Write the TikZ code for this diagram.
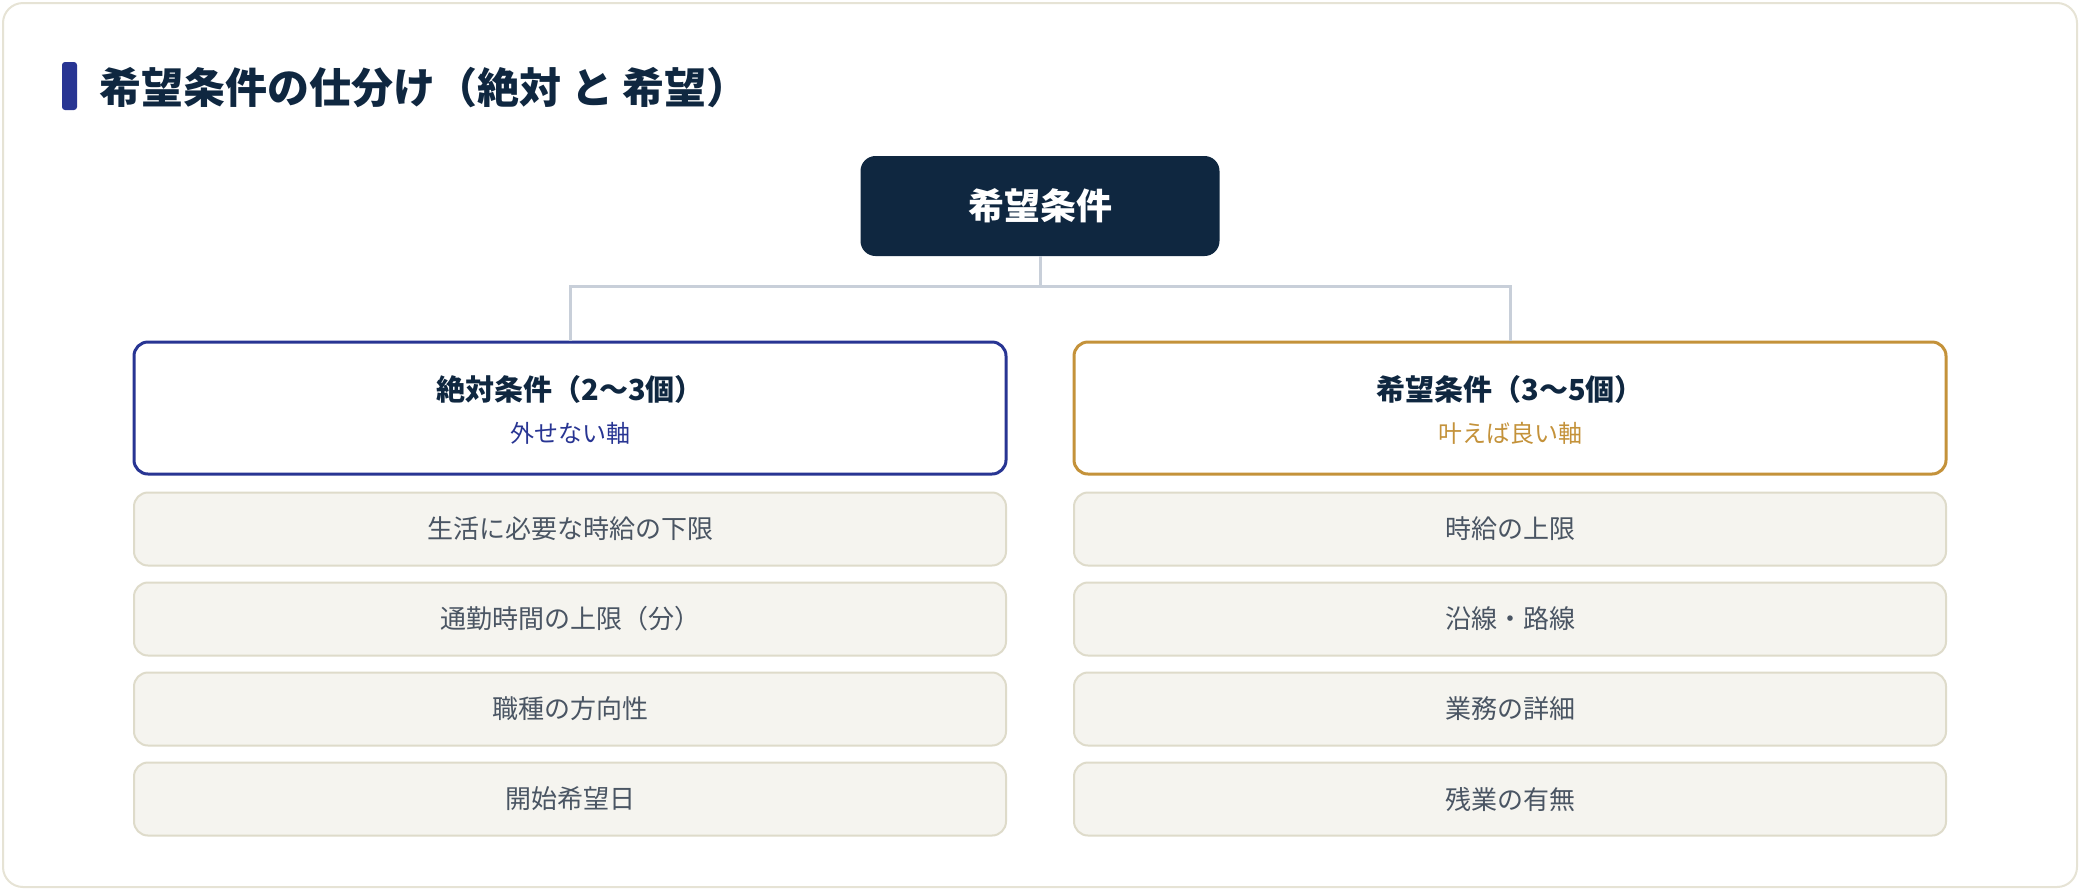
\documentclass[tikz,border=0pt]{standalone}
\usepackage{fontspec}
\setmainfont{Noto Sans CJK JP}
\definecolor{navy}{HTML}{0F2740}
\definecolor{accent}{HTML}{283593}
\definecolor{gold}{HTML}{C4923A}
\definecolor{itemfill}{HTML}{F5F4EF}
\definecolor{itemline}{HTML}{DEDBCA}
\definecolor{itemtext}{HTML}{4A5563}
\definecolor{connline}{HTML}{C8CFD9}
\definecolor{cardline}{HTML}{E6E3D5}
\begin{document}
\begin{tikzpicture}[x=0.5pt,y=-0.5pt,
  card/.style={draw=cardline,line width=1pt,fill=white,rounded corners=10pt},
  accentbar/.style={fill=accent,rounded corners=1.5pt},
  titletext/.style={anchor=west,inner sep=0pt,text=navy,font=\fontsize{21pt}{25pt}\selectfont\bfseries},
  rootbox/.style={fill=navy,rounded corners=7.5pt,minimum width=179.5pt,minimum height=50pt,inner sep=0pt,text=white,font=\fontsize{18pt}{22pt}\selectfont\bfseries},
  headbox/.style={draw=#1,line width=1.5pt,fill=white,rounded corners=7pt,minimum width=436pt,minimum height=66pt,inner sep=0pt},
  headtitle/.style={inner sep=0pt,text=navy,font=\fontsize{14.5pt}{17pt}\selectfont\bfseries},
  headsub/.style={inner sep=0pt,text=#1,font=\fontsize{12pt}{14pt}\selectfont},
  itembox/.style={draw=itemline,line width=1pt,fill=itemfill,rounded corners=7pt,minimum width=436pt,minimum height=36.5pt,inner sep=0pt,text=itemtext,font=\fontsize{13pt}{15pt}\selectfont},
  conn/.style={draw=connline,line width=1.5pt}
]
\useasboundingbox (0,0) rectangle (2080,890);
\draw[card] (3,3) rectangle (2077,887);
\fill[accentbar] (62,62) rectangle (77,110);
\node[titletext] (title) at (99,88) {希望条件の仕分け（絶対 と 希望）};

\node[rootbox] (root) at (1040,206) {希望条件};

\node[headbox=accent] (hl) at (570,408) {};
\node[headbox=gold] (hr) at (1510,408) {};
\node[headtitle] (hlt) at (570,389) {絶対条件（2〜3個）};
\node[headsub=accent] (hls) at (570,433) {外せない軸};
\node[headtitle] (hrt) at (1510,389) {希望条件（3〜5個）};
\node[headsub=gold] (hrs) at (1510,433) {叶えば良い軸};

\coordinate (split) at (1040,286);
\draw[conn] (root.south) -- (split);
\draw[conn] (split) -| (hl.north);
\draw[conn] (split) -| (hr.north);

\node[itembox] (l1) at (570,529) {生活に必要な時給の下限};
\node[itembox] (l2) at (570,619) {通勤時間の上限（分）};
\node[itembox] (l3) at (570,709) {職種の方向性};
\node[itembox] (l4) at (570,799) {開始希望日};
\node[itembox] (r1) at (1510,529) {時給の上限};
\node[itembox] (r2) at (1510,619) {沿線・路線};
\node[itembox] (r3) at (1510,709) {業務の詳細};
\node[itembox] (r4) at (1510,799) {残業の有無};
\end{tikzpicture}
\end{document}
